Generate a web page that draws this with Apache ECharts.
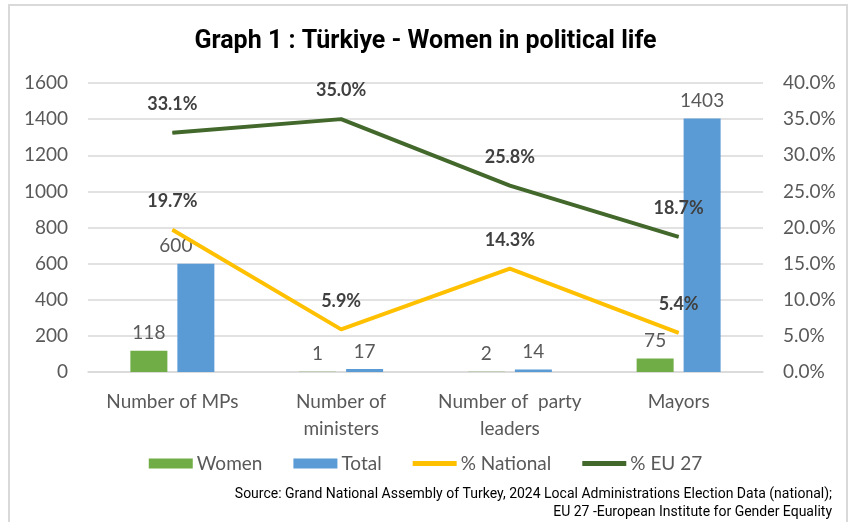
<!DOCTYPE html>
<html lang="en">
<head>
    <meta charset="UTF-8">
    <title>Türkiye - Women in political life</title>
    <script src="https://cdn.jsdelivr.net/npm/echarts@6/dist/echarts.min.js"></script>
    <style>
        body { margin: 0; background: #fff; }
    </style>
</head>
<body>
    <div id="main" style="width: 851px;height:522px;"></div>
    <script type="text/javascript">
        // chart data
        const categories = ['Number of MPs', 'Number of\nministers', 'Number of  party\nleaders', 'Mayors'];
        const women = [118, 1, 2, 75];
        const total = [600, 17, 14, 1403];
        const pctNational = [19.7, 5.9, 14.3, 5.4];
        const pctEU27 = [33.1, 35.0, 25.8, 18.7];

        const gray = '#595959';
        const labelFont = 'Lato, "Open Sans", sans-serif';
        const lineIcon = 'path://M0,0h44v5h-44z';

        let myChart = echarts.init(document.getElementById('main'));

        // the 600 label sits a bit left of its bar, like in the original
        const totalData = total.map((v, i) => i === 0 ? { value: v, label: { offset: [-20, 0] } } : v);

        const pctLabel = {
            show: true, position: 'top', distance: 19,
            fontFamily: labelFont, fontWeight: 'bold', fontSize: 18, color: '#404040',
            formatter: (p) => p.value.toFixed(1) + '%'
        };

        let options = {
            animation: false,
            title: {
                text: 'Graph 1 : Türkiye - Women in political life',
                left: 'center',
                top: 24,
                textStyle: { fontFamily: 'Roboto', fontWeight: 'bold', fontSize: 25, color: '#000' }
            },
            grid: { left: 88, right: 88, top: 83, bottom: 150 },
            legend: {
                top: 449,
                left: 'center',
                itemGap: 31,
                itemWidth: 44,
                itemHeight: 10,
                textStyle: { fontFamily: labelFont, fontSize: 19, color: gray, padding: [0, 0, 0, -1] },
                data: [
                    { name: 'Women', icon: 'rect' },
                    { name: 'Total', icon: 'rect' },
                    { name: '% National', icon: lineIcon },
                    { name: '% EU 27', icon: lineIcon }
                ]
            },
            xAxis: {
                type: 'category',
                data: categories,
                axisLine: { lineStyle: { color: '#d9d9d9', width: 1.5 } },
                axisTick: { show: false },
                axisLabel: { fontFamily: labelFont, fontSize: 19, color: gray, margin: 16, lineHeight: 27, interval: 0 }
            },
            yAxis: [
                {
                    type: 'value',
                    min: 0, max: 1600, interval: 200,
                    axisLine: { show: false },
                    axisTick: { show: false },
                    splitLine: { lineStyle: { color: '#d9d9d9', width: 1.5 } },
                    axisLabel: { fontFamily: labelFont, fontSize: 19, color: gray, margin: 20, formatter: (v) => String(v) }
                },
                {
                    type: 'value',
                    min: 0, max: 40, interval: 5,
                    axisLine: { show: false },
                    axisTick: { show: false },
                    splitLine: { show: false },
                    axisLabel: {
                        fontFamily: labelFont, fontSize: 19, color: gray, margin: 20,
                        formatter: (v) => v.toFixed(1) + '%'
                    }
                }
            ],
            series: [
                {
                    name: 'Women',
                    type: 'bar',
                    data: women,
                    barWidth: 37,
                    barGap: '27%',
                    itemStyle: { color: '#70AD47' },
                    label: { show: true, position: 'top', distance: 8, fontFamily: labelFont, fontSize: 19, color: gray }
                },
                {
                    name: 'Total',
                    type: 'bar',
                    data: totalData,
                    barWidth: 37,
                    itemStyle: { color: '#5B9BD5' },
                    label: { show: true, position: 'top', distance: 8, fontFamily: labelFont, fontSize: 19, color: gray }
                },
                {
                    name: '% National',
                    type: 'line',
                    yAxisIndex: 1,
                    data: pctNational,
                    symbol: 'circle',
                    symbolSize: 1,
                    showSymbol: true,
                    lineStyle: { color: '#FFC000', width: 4 },
                    itemStyle: { color: '#FFC000' },
                    label: pctLabel
                },
                {
                    name: '% EU 27',
                    type: 'line',
                    yAxisIndex: 1,
                    data: pctEU27,
                    symbol: 'circle',
                    symbolSize: 1,
                    showSymbol: true,
                    lineStyle: { color: '#43682B', width: 4 },
                    itemStyle: { color: '#43682B' },
                    label: pctLabel
                }
            ],
            graphic: [
                {
                    type: 'rect',
                    shape: { x: 9, y: 5, width: 838, height: 530 },
                    style: { fill: 'none', stroke: '#d9d9d9', lineWidth: 2 },
                    silent: true
                },
                {
                    type: 'text',
                    right: 19,
                    top: 487,
                    style: {
                        text: 'Source: Grand National Assembly of Turkey, 2024 Local Administrations Election Data (national);',
                        fontFamily: 'Roboto', fontSize: 14, fill: '#000'
                    }
                },
                {
                    type: 'text',
                    right: 19,
                    top: 505,
                    style: {
                        text: 'EU 27 -European Institute for Gender Equality',
                        fontFamily: 'Roboto', fontSize: 14, fill: '#000'
                    }
                }
            ]
        };

        myChart.setOption(options);
    </script>
</body>
</html>
